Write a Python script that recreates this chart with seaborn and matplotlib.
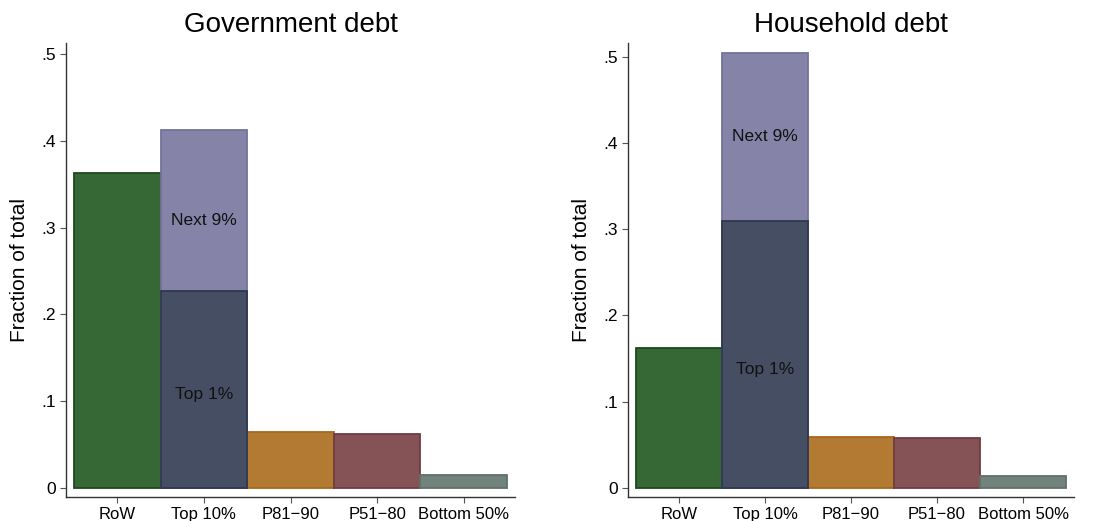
import matplotlib
matplotlib.use("Agg")
import matplotlib.pyplot as plt
import seaborn as sns
import pandas as pd

# ---- data ----
categories = ["RoW", "Top 10%", "P81\u221290", "P51\u221280", "Bottom 50%"]
gov_values = [0.3626, 0.4126, 0.0639, 0.0616, 0.0146]      # Top 10% = total
gov_top1 = 0.2272
hh_values = [0.1617, 0.5040, 0.0592, 0.0580, 0.0139]
hh_top1 = 0.3090
panel_titles = ["Government debt", "Household debt"]
ylabel = "Fraction of total"
yticks = [0, 0.1, 0.2, 0.3, 0.4, 0.5]
ytick_labels = ["0", ".1", ".2", ".3", ".4", ".5"]
seg_labels = ["Next 9%", "Top 1%"]
# label heights (data units) for the two Top-10% segment labels, per panel
gov_label_y = [0.308, 0.108]
hh_label_y = [0.408, 0.1375]

# ---- styles ----
fills = ["#356834", "#8683a8", "#b37a34", "#855256", "#71837b"]
edges = ["#1b4a1b", "#74719a", "#a8661e", "#6f3c40", "#5f7169"]
top1_fill = "#454e62"
top1_edge = "#2e3850"

sns.set_theme(style="white")
plt.rcParams["font.family"] = ["Liberation Sans", "DejaVu Sans"]
plt.rcParams["text.color"] = "black"
plt.rcParams["axes.labelcolor"] = "black"
plt.rcParams["xtick.color"] = "black"
plt.rcParams["ytick.color"] = "black"

fig = plt.figure(figsize=(11.04, 5.21), dpi=100)
axes = [fig.add_axes([66 / 1104, 1 - 497 / 521, 449 / 1104, 454 / 521]),
        fig.add_axes([628 / 1104, 1 - 497 / 521, 446 / 1104, 454 / 521])]

panels = [(gov_values, gov_top1, gov_label_y, (-0.0107, 0.513)),
          (hh_values, hh_top1, hh_label_y, (-0.0108, 0.516))]

for ax, title, (vals, top1, laby, ylim) in zip(axes, panel_titles, panels):
    df = pd.DataFrame({"cat": categories, "val": vals})
    sns.barplot(data=df, x="cat", y="val", hue="cat", order=categories,
                hue_order=categories, palette=fills, width=1.0,
                linewidth=1.3, legend=False, ax=ax, saturation=1)
    for p, ec in zip(ax.patches, edges):
        p.set_edgecolor(ec)
    df1 = pd.DataFrame({"cat": [categories[1]], "val": [top1]})
    n_before = len(ax.patches)
    sns.barplot(data=df1, x="cat", y="val", order=categories, color=top1_fill,
                width=1.0, linewidth=1.3, ax=ax, saturation=1)
    for p in ax.patches[n_before:]:
        p.set_edgecolor(top1_edge)
    ax.text(1, laby[0], seg_labels[0], ha="center", va="center", fontsize=12.5,
            color="#111111")
    ax.text(1, laby[1], seg_labels[1], ha="center", va="center", fontsize=12.5,
            color="#111111")

    ax.set_xlim(-0.592, 4.592)
    ax.set_ylim(*ylim)
    ax.set_yticks(yticks)
    ax.set_yticklabels(ytick_labels)
    ax.set_xlabel("")
    ax.set_ylabel(ylabel, fontsize=15, labelpad=9, color="black")
    ax.set_title(title, fontsize=20, pad=8, color="black")
    for s in ["top", "right"]:
        ax.spines[s].set_visible(False)
    for s in ["left", "bottom"]:
        ax.spines[s].set_color("#333333")
        ax.spines[s].set_linewidth(1.0)
    ax.tick_params(axis="both", which="both", length=4, width=0.8,
                   color="#555555", labelcolor="black", labelsize=12, pad=3,
                   bottom=True, left=True)
    ax.tick_params(axis="y", labelsize=12.5)
    ax.grid(False)

fig.savefig("out.png", dpi=100, facecolor="white")
